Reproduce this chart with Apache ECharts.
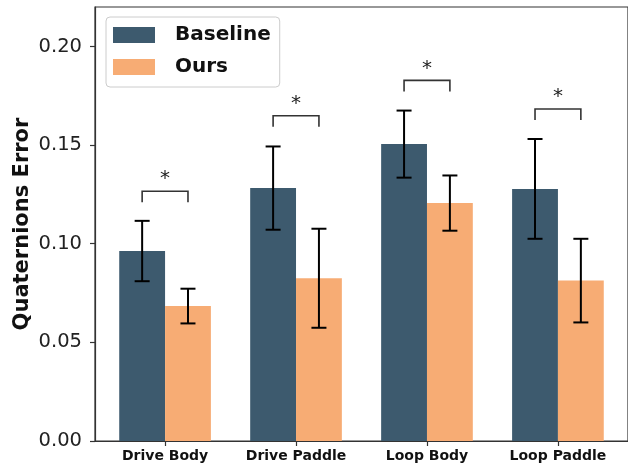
<!DOCTYPE html>
<html>
<head>
<meta charset="utf-8">
<script src="https://cdn.jsdelivr.net/npm/echarts@6/dist/echarts.min.js"></script>
<style>
html,body{margin:0;padding:0;background:#fff;}
#chart{width:628px;height:468px;}
</style>
</head>
<body>
<div id="chart"></div>
<script>
// ---- data ----
const categories = ['Drive Body', 'Drive Paddle', 'Loop Body', 'Loop Paddle'];
const baseline = [0.0963, 0.1282, 0.1505, 0.1278];
const baselineStd = [0.0153, 0.0211, 0.0170, 0.0253];
const ours = [0.0684, 0.0825, 0.1206, 0.0813];
const oursStd = [0.0088, 0.0251, 0.0140, 0.0212];
const bracketY = [0.1266, 0.1649, 0.1828, 0.1683];
const yTicks = [0, 0.05, 0.10, 0.15, 0.20];
const seriesNames = ['Baseline', 'Ours'];

// ---- style ----
const BAR_FRAC = 0.35;            // bar width as fraction of category spacing
const HALF = BAR_FRAC / 2;
const C_BASE = '#3D5A6E';
const C_OURS = '#F7AC74';
const SPINE = '#333333';

const chart = echarts.init(document.getElementById('chart'), null, {renderer: 'canvas'});

const idx = categories.map((c, i) => i);

function errRender(sign) {
  return function (params, api) {
    const x = api.value(0) + sign * HALF;
    const lo = api.coord([x, api.value(1)]);
    const hi = api.coord([x, api.value(2)]);
    const cap = 7.5;
    const st = {stroke: '#000', lineWidth: 2};
    return {
      type: 'group',
      children: [
        {type: 'line', shape: {x1: lo[0], y1: lo[1], x2: hi[0], y2: hi[1]}, style: st},
        {type: 'line', shape: {x1: lo[0] - cap, y1: lo[1], x2: lo[0] + cap, y2: lo[1]}, style: st},
        {type: 'line', shape: {x1: hi[0] - cap, y1: hi[1], x2: hi[0] + cap, y2: hi[1]}, style: st}
      ]
    };
  };
}

function bracketRender(params, api) {
  const i = api.value(0);
  const y = api.value(1);
  const a = api.coord([i - HALF, y]);
  const b = api.coord([i + HALF, y]);
  const leg = 11;
  return {
    type: 'group',
    children: [
      {type: 'polyline', shape: {points: [[a[0], a[1] + leg], [a[0], a[1]], [b[0], b[1]], [b[0], b[1] + leg]]},
       style: {stroke: '#333', lineWidth: 1.6, fill: null}},
      {type: 'text', x: (a[0] + b[0]) / 2, y: a[1] - 12,
       style: {text: '*', textAlign: 'center', textVerticalAlign: 'middle',
               fontFamily: 'DejaVu Sans', fontSize: 20, fill: '#222'}}
    ]
  };
}

const option = {
  animation: false,
  backgroundColor: '#fff',
  grid: {left: 95, right: -5, top: 7, bottom: 27, show: true, borderColor: SPINE, borderWidth: 1.2, backgroundColor: 'transparent'},
  legend: {
    data: seriesNames,
    orient: 'vertical',
    left: 106, top: 17,
    itemWidth: 42, itemHeight: 16, itemGap: 12,
    icon: 'rect',
    padding: [8, 9, 10, 7],
    backgroundColor: 'rgba(255,255,255,0.8)',
    borderColor: '#cccccc', borderWidth: 1, borderRadius: 4,
    textStyle: {fontFamily: 'DejaVu Sans', fontWeight: 'bold', fontSize: 20, color: '#111', lineHeight: 20, padding: [0, 0, 0, 15]}
  },
  xAxis: {
    type: 'value',
    min: -0.535, max: 3.535,
    splitLine: {show: false},
    axisLine: {show: true, onZero: false, lineStyle: {color: SPINE, width: 1.2}},
    axisTick: {show: true, customValues: idx, length: 5, lineStyle: {color: SPINE, width: 1.2}},
    axisLabel: {
      customValues: idx,
      formatter: v => categories[Math.round(v)] || '',
      fontFamily: 'DejaVu Sans', fontWeight: 'bold', fontSize: 14, color: '#111', margin: 8
    }
  },
  yAxis: {
    type: 'value',
    min: 0, max: 0.22,
    name: 'Quaternions Error',
    nameLocation: 'middle',
    nameGap: 62,
    nameMoveOverlap: false,
    nameRotate: 90,
    nameTextStyle: {fontFamily: 'DejaVu Sans', fontWeight: 'bold', fontSize: 21, color: '#111'},
    splitLine: {show: false},
    axisLine: {show: true, onZero: false, lineStyle: {color: SPINE, width: 1.2}},
    axisTick: {show: true, customValues: yTicks, length: 5, lineStyle: {color: SPINE, width: 1.2}},
    axisLabel: {
      customValues: yTicks,
      formatter: v => v.toFixed(2),
      fontFamily: 'DejaVu Sans', fontSize: 19.5, color: '#222', margin: 13
    }
  },
  series: [
    {
      name: 'Baseline', type: 'bar',
      barWidth: (BAR_FRAC * 100) + '%', barGap: '0%',
      itemStyle: {color: C_BASE},
      data: baseline.map((v, i) => [i, v])
    },
    {
      name: 'Ours', type: 'bar',
      barWidth: (BAR_FRAC * 100) + '%', barGap: '0%',
      itemStyle: {color: C_OURS},
      data: ours.map((v, i) => [i, v])
    },
    {
      type: 'custom', renderItem: errRender(-1), z: 5,
      data: baseline.map((v, i) => [i, v - baselineStd[i], v + baselineStd[i]])
    },
    {
      type: 'custom', renderItem: errRender(1), z: 5,
      data: ours.map((v, i) => [i, v - oursStd[i], v + oursStd[i]])
    },
    {
      type: 'custom', renderItem: bracketRender, z: 5,
      data: bracketY.map((v, i) => [i, v])
    }
  ]
};
chart.setOption(option);
</script>
</body>
</html>
